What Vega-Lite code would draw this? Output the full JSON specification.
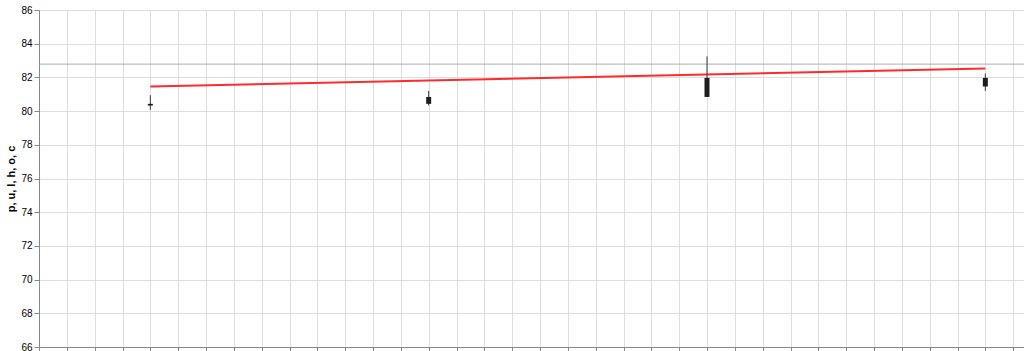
{
"$schema":"https://vega.github.io/schema/vega-lite/v6.json",
"width":1002,"height":337,
"data":{"values":[
{"g":"c","b":0,"o":80.33,"h":80.94,"l":80.07,"c":80.43},
{"g":"c","b":5,"o":80.43,"h":81.20,"l":80.33,"c":80.84},
{"g":"c","b":10,"o":80.84,"h":83.25,"l":80.84,"c":81.97},
{"g":"c","b":15,"o":81.97,"h":82.23,"l":81.20,"c":81.46},
{"g":"bb","b":0,"u":81.46},
{"g":"bb","b":15,"u":82.53},
{"g":"lv","p":82.789}
]},
"layer":[
{"transform":[{"filter":"datum.g == 'lv'"}],"mark":{"type":"rule","color":"#a7afb4"},
 "encoding":{"y":{"field":"p","type":"quantitative","scale":{"domain":[66.739,84.021]}}}},
{"transform":[{"filter":"datum.g == 'bb'"}],"mark":{"type":"line","color":"#ff2b2b"},
 "encoding":{"x":{"field":"b","type":"quantitative"},"y":{"field":"u","type":"quantitative"}}},
{"transform":[{"filter":"datum.g == 'c'"}],"mark":{"type":"rule","color":"#3a3a3a"},
 "encoding":{"x":{"field":"b","type":"quantitative"},"y":{"field":"l","type":"quantitative"},"y2":{"field":"h"}}},
{"transform":[{"filter":"datum.g == 'c'"}],"mark":{"type":"bar","color":"#1e1e1e"},
 "encoding":{"x":{"field":"b","type":"quantitative"},"y":{"field":"o","type":"quantitative"},"y2":{"field":"c"}}}
]
}
